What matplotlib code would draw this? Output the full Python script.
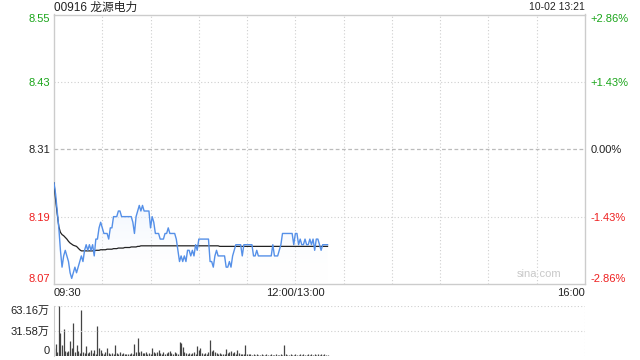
import matplotlib
matplotlib.use("Agg")
import matplotlib.pyplot as plt
import numpy as np

plt.rcParams['font.family'] = ['Liberation Sans', 'Noto Sans CJK SC', 'DejaVu Sans']

title = "00916 龙源电力"
stamp = "10-02 13:21"
prev_close = 8.31

price = [
    8.25, 8.23, 8.20, 8.17, 8.13, 8.10, 8.12, 8.13, 8.12, 8.11,
    8.09, 8.08, 8.09, 8.10, 8.09, 8.10, 8.11, 8.12, 8.11, 8.13,
    8.14, 8.13, 8.14, 8.13, 8.14, 8.12, 8.15, 8.15, 8.17, 8.18,
    8.17, 8.16, 8.16, 8.16, 8.15, 8.17, 8.17, 8.19, 8.19, 8.19,
    8.20, 8.20, 8.19, 8.19, 8.19, 8.19, 8.19, 8.19, 8.19, 8.18,
    8.16, 8.19, 8.20, 8.21, 8.20, 8.21, 8.20, 8.20, 8.20, 8.20,
    8.17, 8.19, 8.18, 8.16, 8.16, 8.16, 8.15, 8.15, 8.15, 8.16,
    8.16, 8.17, 8.16, 8.16, 8.16, 8.16, 8.15, 8.13, 8.11, 8.12,
    8.11, 8.12, 8.11, 8.13, 8.13, 8.12, 8.13, 8.12, 8.14, 8.13,
    8.15, 8.15, 8.15, 8.15, 8.15, 8.15, 8.15, 8.11, 8.11, 8.10,
    8.12, 8.13, 8.12, 8.12, 8.12, 8.12, 8.12, 8.10, 8.10, 8.11,
    8.10, 8.12, 8.13, 8.14, 8.14, 8.14, 8.14, 8.12, 8.14, 8.14,
    8.14, 8.14, 8.14, 8.14, 8.12, 8.12, 8.13, 8.12, 8.12, 8.12,
    8.12, 8.12, 8.12, 8.12, 8.12, 8.12, 8.14, 8.12, 8.12, 8.12,
    8.13, 8.14, 8.16, 8.16, 8.16, 8.16, 8.16, 8.16, 8.16, 8.14,
    8.16, 8.16, 8.14, 8.15, 8.14, 8.14, 8.15, 8.14, 8.14, 8.15,
    8.14, 8.15, 8.13, 8.15, 8.15, 8.14, 8.13, 8.14, 8.14, 8.14,
    8.14,
]

avg_price = [
    8.250, 8.220, 8.195, 8.172, 8.162, 8.158, 8.156, 8.153, 8.150, 8.146,
    8.143, 8.141, 8.139, 8.138, 8.137, 8.134, 8.131, 8.129, 8.129, 8.129,
    8.129, 8.129, 8.129, 8.129, 8.129, 8.129, 8.130, 8.130, 8.130, 8.131,
    8.131, 8.131, 8.131, 8.132, 8.132, 8.132, 8.132, 8.133, 8.133, 8.133,
    8.134, 8.134, 8.134, 8.134, 8.135, 8.135, 8.135, 8.135, 8.136, 8.136,
    8.136, 8.136, 8.137, 8.137, 8.138, 8.138, 8.138, 8.138, 8.138, 8.138,
    8.138, 8.138, 8.138, 8.138, 8.138, 8.138, 8.138, 8.138, 8.138, 8.138,
    8.138, 8.138, 8.138, 8.138, 8.138, 8.138, 8.138, 8.138, 8.138, 8.138,
    8.138, 8.138, 8.138, 8.138, 8.138, 8.138, 8.138, 8.138, 8.138, 8.138,
    8.138, 8.138, 8.138, 8.138, 8.138, 8.138, 8.138, 8.138, 8.138, 8.138,
    8.138, 8.138, 8.138, 8.137, 8.137, 8.137, 8.137, 8.137, 8.137, 8.137,
    8.137, 8.137, 8.137, 8.137, 8.137, 8.137, 8.137, 8.137, 8.137, 8.137,
    8.137, 8.137, 8.137, 8.137, 8.137, 8.137, 8.137, 8.137, 8.137, 8.137,
    8.137, 8.137, 8.137, 8.137, 8.137, 8.137, 8.137, 8.137, 8.137, 8.137,
    8.137, 8.137, 8.137, 8.137, 8.137, 8.137, 8.137, 8.137, 8.137, 8.137,
    8.137, 8.137, 8.137, 8.137, 8.137, 8.137, 8.137, 8.137, 8.137, 8.137,
    8.137, 8.137, 8.137, 8.137, 8.137, 8.137, 8.137, 8.137, 8.137, 8.137,
    8.137,
]

# volume, in 万 shares
volume = [
    9.3, 14.3, 5.0, 63.16, 28.0, 13.5, 33.7, 6.0, 5.0, 6.0,
    17.7, 9.0, 40.8, 5.0, 13.5, 6.0, 3.0, 57.0, 5.0, 3.0,
    11.4, 3.0, 5.0, 7.0, 3.0, 7.0, 2.0, 37.5, 10.0, 7.0,
    3.0, 2.0, 4.0, 10.0, 3.0, 2.0, 3.0, 2.0, 13.5, 3.0,
    2.0, 4.0, 2.0, 3.0, 1.5, 2.0, 1.5, 2.0, 3.0, 2.0,
    14.7, 5.0, 21.9, 4.0, 6.0, 3.0, 3.0, 5.0, 2.0, 3.0,
    2.0, 10.0, 5.0, 3.0, 4.0, 7.0, 3.0, 2.0, 5.0, 2.0,
    3.0, 4.0, 6.0, 3.0, 2.0, 5.0, 3.0, 2.0, 16.8, 15.6,
    11.0, 5.0, 3.0, 2.0, 3.0, 2.0, 3.0, 4.0, 2.0, 11.4,
    7.0, 9.0, 3.0, 2.0, 3.0, 2.0, 4.0, 19.0, 6.0, 7.0,
    5.0, 3.0, 2.0, 3.0, 2.0, 1.5, 2.0, 8.4, 3.0, 5.0,
    6.0, 3.0, 5.0, 2.0, 7.0, 3.0, 2.0, 1.5, 2.0, 13.5,
    2.0, 1.5, 1.5, 1.0, 1.5, 1.0, 1.5, 1.0, 1.0, 1.5,
    1.0, 1.0, 1.5, 1.0, 1.0, 1.5, 1.0, 1.0, 1.5, 1.0,
    1.0, 1.5, 1.0, 13.5, 1.5, 1.0, 1.0, 1.5, 1.0, 1.0,
    1.5, 1.0, 1.0, 1.5, 1.0, 1.5, 1.0, 1.0, 2.0, 1.0,
    1.5, 1.0, 2.5, 1.0, 1.5, 1.0, 2.0, 1.0, 1.5, 1.0,
    1.0,
]

price_ticks = [8.07, 8.19, 8.31, 8.43, 8.55]
price_labels = ["8.07", "8.19", "8.31", "8.43", "8.55"]
pct_labels = ["-2.86%", "-1.43%", "0.00%", "+1.43%", "+2.86%"]
time_ticks = [0, 30, 60, 90, 120, 150, 180, 210, 240, 270, 300, 330]
time_labels = ["09:30", "", "", "", "", "12:00/13:00", "", "", "", "", "", "16:00"]
vol_ticks = [0, 31.58, 63.16]
vol_labels = ["0", "31.58万", "63.16万"]

GREEN = "#1aa51a"
RED = "#ee2020"
DARK = "#222222"
BORDER = "#cccccc"
GRID = "#cfcfcf"
BLUE = "#5590e8"

minutes = np.arange(len(price))

fig = plt.figure(figsize=(6.4, 3.6), dpi=100)
W, H = 640, 360
L, R = 54 / W, 585 / W
ax = fig.add_axes([L, 1 - 284 / H, R - L, (284 - 14.5) / H])
axv = fig.add_axes([L, 1 - 355.5 / H, R - L, (355.5 - 305.5) / H])

# ---- main price panel
ax.set_xlim(0, 330)
ax.set_ylim(price_ticks[0], price_ticks[-1])

verts = [(minutes[0], price_ticks[0])] + list(zip(minutes, price)) + [(minutes[-1], price_ticks[0])]
poly = plt.Polygon(verts, closed=True, facecolor="none", edgecolor="none")
ax.add_patch(poly)
grad = np.linspace(0, 1, 256).reshape(-1, 1)
cmap = matplotlib.colors.LinearSegmentedColormap.from_list(
    "g", [(1, 1, 1, 0), (0.87, 0.92, 0.99, 0.7)])
im = ax.imshow(grad, extent=[0, 330, price_ticks[0], max(price)], origin="lower",
               aspect="auto", cmap=cmap, zorder=1)
im.set_clip_path(poly)

ax.plot(minutes, avg_price, color=DARK, lw=0.9, zorder=3)
ax.plot(minutes, price, color=BLUE, lw=1.0, zorder=4)

for t in time_ticks[1:-1]:
    ax.axvline(t, color=GRID, lw=0.8, ls=(0, (1, 2)), zorder=0)
for v in (8.19, 8.43):
    ax.axhline(v, color=GRID, lw=0.8, ls=(0, (1, 2)), zorder=0)
ax.axhline(prev_close, color="#bbbbbb", lw=0.9, ls=(0, (3, 2)), zorder=0)

for s in ax.spines.values():
    s.set_color(BORDER)
    s.set_linewidth(1.0)

ax.set_yticks(price_ticks)
ax.set_yticklabels(price_labels)
ax.tick_params(axis="y", length=0, pad=3, labelsize=8)
lab_colors = [RED, RED, DARK, GREEN, GREEN]
for lbl, c in zip(ax.get_yticklabels(), lab_colors):
    lbl.set_color(c)
ylbls = ax.get_yticklabels()
ylbls[0].set_va("bottom")
ylbls[-1].set_va("top")

ax.set_xticks(time_ticks)
ax.set_xticklabels(time_labels)
ax.tick_params(axis="x", length=0, pad=3, labelsize=8, colors=DARK)
xl = ax.get_xticklabels()
xl[0].set_ha("left")
xl[-1].set_ha("right")

axr = ax.twinx()
axr.set_ylim(price_ticks[0], price_ticks[-1])
axr.set_yticks(price_ticks)
axr.set_yticklabels(pct_labels)
axr.tick_params(axis="y", length=0, pad=4, labelsize=8)
for lbl, c in zip(axr.get_yticklabels(), lab_colors):
    lbl.set_color(c)
rl = axr.get_yticklabels()
rl[0].set_va("bottom")
rl[-1].set_va("top")
for s in axr.spines.values():
    s.set_visible(False)

ax.text(0.955, 0.02, "sina.com", transform=ax.transAxes, ha="right", va="bottom",
        fontsize=8, color="#c8c8c8", zorder=5)

fig.text(L + 0.5 / W, 1 - 7.5 / H, title, ha="left", va="center", fontsize=8.5, color=DARK)
fig.text(R, 1 - 7.5 / H, stamp, ha="right", va="center", fontsize=7.5, color=DARK)

# ---- volume panel
axv.set_xlim(0, 330)
axv.set_ylim(0, vol_ticks[-1])
axv.vlines(minutes, 0, volume, color="#444444", lw=0.9)
axv.axhline(vol_ticks[1], color=GRID, lw=0.8, ls=(0, (1, 2)))
axv.axhline(vol_ticks[2], color=GRID, lw=0.8, ls=(0, (1, 2)))
axv.axvline(330, color=GRID, lw=0.8, ls=(0, (1, 2)))
axv.spines["top"].set_visible(False)
axv.spines["right"].set_visible(False)
axv.spines["left"].set_color(BORDER)
axv.spines["bottom"].set_visible(False)
axv.set_xticks([])
axv.set_yticks(vol_ticks)
axv.set_yticklabels(vol_labels)
axv.tick_params(axis="y", length=0, pad=3, labelsize=8, colors=DARK)
vl = axv.get_yticklabels()
vl[0].set_va("bottom")
vl[-1].set_va("top")

fig.savefig("out.png", dpi=100)
